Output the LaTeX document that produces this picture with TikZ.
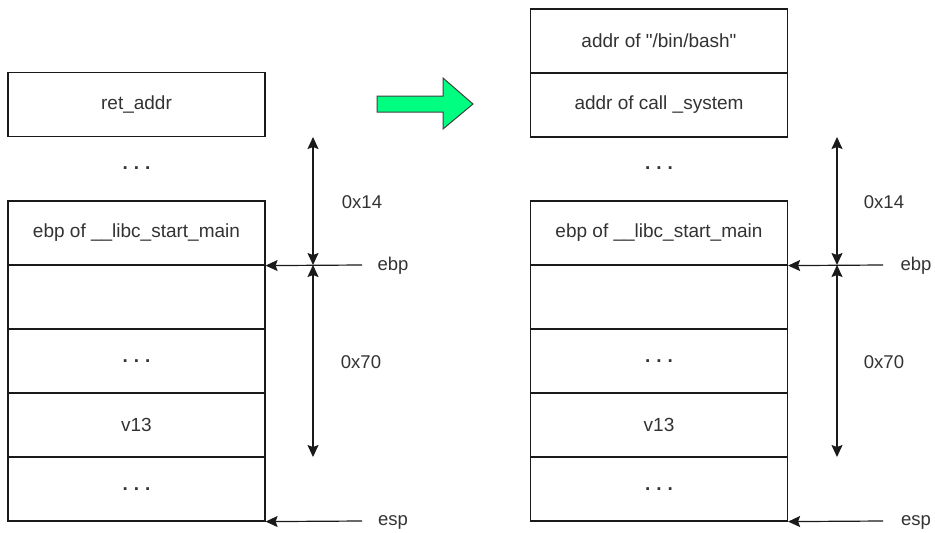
\documentclass[tikz,border=0pt]{standalone}
\usepackage{fontspec}
\setmainfont{Liberation Sans}[Ligatures=TeXOff]
\usetikzlibrary{arrows.meta}
\definecolor{txt}{HTML}{333333}
\definecolor{lin}{HTML}{1A1A1A}
\definecolor{grn}{RGB}{0,255,128}
\tikzset{
  cell/.style={draw=lin, line width=1.2pt, minimum width=257pt, minimum height=64pt, inner sep=0pt, text=txt, font=\fontsize{19}{23}\selectfont},
  dots/.style={text=txt, inner sep=0pt, font=\bfseries\fontsize{19}{23}\selectfont},
  lbl/.style={text=txt, inner sep=0pt, font=\fontsize{18.5}{22}\selectfont},
  ptr/.style={draw=lin, line width=1.2pt, -{Stealth[length=12pt,width=11pt,inset=2pt]}},
  dim/.style={draw=lin, line width=1.2pt, {Stealth[length=12pt,width=11pt,inset=2pt]}-{Stealth[length=12pt,width=11pt,inset=2pt]}}
}
\newcommand{\mydots}{.\kern6pt.\kern6pt.}
\begin{document}
\begin{tikzpicture}[x=1pt,y=-1pt]
\useasboundingbox[fill=white] (0,0) rectangle (935,533);
% left stack
\node[cell] (L1) at (136.5,104.5) {ret\_addr};
\node[dots] (Ld) at (136.5,168.5) {\mydots};
\node[cell] (L2) at (136.5,233) {ebp of \_\_libc\_start\_main};
\node[cell] (L3) at (136.5,297) {};
\node[cell] (L4) at (136.5,361) {};
\node[dots] at (L4.center) {\mydots};
\node[cell] (L5) at (136.5,425) {v13};
\node[cell] (L6) at (136.5,489) {};
\node[dots] at (L6.center) {\mydots};
% right stack
\node[cell] (R0) at (659,41) {addr of "/bin/bash"};
\node[cell] (R1) at (659,105) {addr of call \_system};
\node[dots] (Rd) at (659,168.5) {\mydots};
\node[cell] (R2) at (659,233) {ebp of \_\_libc\_start\_main};
\node[cell] (R3) at (659,297) {};
\node[cell] (R4) at (659,361) {};
\node[dots] at (R4.center) {\mydots};
\node[cell] (R5) at (659,425) {v13};
\node[cell] (R6) at (659,489) {};
\node[dots] at (R6.center) {\mydots};
% left pointers
\coordinate (Lebps) at (362,265);
\coordinate (Lesps) at (362,521);
\node[lbl] (Lebp) at (393,266) {ebp};
\node[lbl] (Lesp) at (393,522) {esp};
\draw[ptr] (Lebps) -- (L2.south east);
\draw[ptr] (Lesps) -- (L6.south east);
\coordinate (La) at (313,137);
\coordinate (Lb) at (313,265);
\coordinate (Lc) at (313,457);
\draw[dim] (La) -- (Lb);
\draw[dim] (Lb) -- (Lc);
\node[lbl] (L14) at (362,202) {0x14};
\node[lbl] (L70) at (361,362) {0x70};
% right pointers
\coordinate (Rebps) at (883,265);
\coordinate (Resps) at (883,521);
\node[lbl] (Rebp) at (916,266) {ebp};
\node[lbl] (Resp) at (916,522) {esp};
\draw[ptr] (Rebps) -- (R2.south east);
\draw[ptr] (Resps) -- (R6.south east);
\coordinate (Ra) at (837,137);
\coordinate (Rb) at (837,265);
\coordinate (Rc) at (837,457);
\draw[dim] (Ra) -- (Rb);
\draw[dim] (Rb) -- (Rc);
\node[lbl] (R14) at (884,202) {0x14};
\node[lbl] (R70) at (884,362) {0x70};
% green arrow
\draw[fill=grn, draw=black!75, line width=1pt, line join=miter]
  (377,96) -- (443,96) -- (443,78) -- (473,104) -- (443,129) -- (443,112) -- (377,112) -- cycle;
\end{tikzpicture}
\end{document}
